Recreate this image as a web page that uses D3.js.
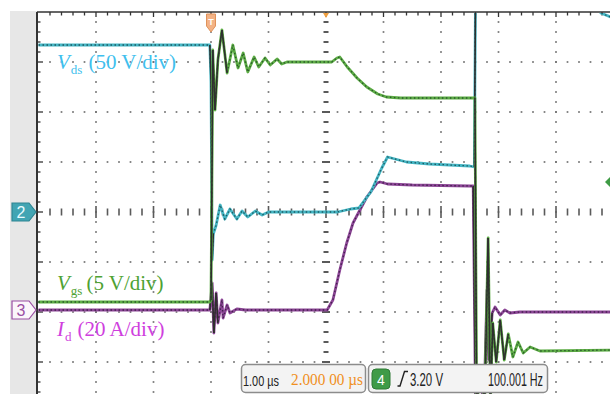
<!DOCTYPE html>
<html>
<head>
<meta charset="utf-8">
<script src="https://cdn.jsdelivr.net/npm/d3@7"></script>
<style>
  body { margin: 0; background: #fff; }
  svg { display: block; }
</style>
</head>
<body>
<svg width="610" height="394"></svg>
<script>
// scope settings
var timePerDiv = 1.0;      // µs/div
var delay = 2.0;           // µs, trigger -> screen centre
var vdsScale = 50, vdsOffset = 0;      // V/div, div
var vgsScale = 5, vgsOffset = -1;      // V/div, div
var idScale = 20, idOffset = -1.96;    // A/div, div

// traces, [time µs, value]
var vdsData = [[-3.0,167],[-0.02,167],[0.0,130],[0.02,-48],[0.04,-22],[0.09,-13],[0.16,7],[0.24,-7],
  [0.33,3],[0.45,-7],[0.54,1],[0.64,-5],[0.77,1],[0.89,-3],[1.0,0],[2.2,0],[2.43,3],[2.57,4],
  [2.78,20],[2.97,44],[3.07,55],[3.2,53],[3.4,50],[3.8,48],[4.5,46],[4.58,45],[4.61,300],
  [5.0,290],[6.5,240],[6.7,215],[6.78,199],[6.95,195],[7.0,196]];

var vgsData = [[-3.0,-4.0],[-0.02,-4.0],[0.0,-3.8],[0.02,11.2],[0.03,21.2],[0.07,15.2],[0.12,20.2],
  [0.19,23.2],[0.28,18.9],[0.38,21.7],[0.47,19.4],[0.56,20.9],[0.64,19.0],[0.75,20.5],[0.83,19.5],
  [0.94,20.4],[1.03,19.7],[1.15,20.3],[1.23,19.8],[1.32,20.0],[2.10,20.0],[2.19,20.4],[2.24,20.5],
  [2.37,19.5],[2.54,18.4],[2.71,17.5],[2.90,16.8],[3.05,16.5],[3.3,16.4],[4.59,16.4],[4.62,-14],
  [4.70,-11],[4.76,-14],[4.82,2.4],[4.86,-14],[4.90,-6.1],[4.96,-10],[5.03,-5.8],[5.10,-9.8],
  [5.17,-7.2],[5.25,-9.5],[5.34,-8.0],[5.43,-9.1],[5.55,-8.5],[5.72,-8.9],[7.0,-8.8]];

var idData = [[-3.0,0],[-0.02,0],[0.02,10.8],[0.05,-9.2],[0.09,6.8],[0.12,-5.2],[0.19,4.0],[0.21,-3.2],
  [0.28,2.0],[0.33,-1.2],[0.45,0.4],[0.6,0],[2.02,0],[2.12,4.0],[2.24,16],[2.36,26.8],[2.47,34.8],
  [2.59,40],[2.71,45.2],[2.89,50.8],[2.94,51.2],[3.07,50.4],[3.5,50.0],[4.5,49.6],[4.56,49.6],
  [4.60,-36],[4.68,-30],[4.75,-36],[4.80,8],[4.83,-20],[4.89,-1.2],[4.94,1.2],[5.03,-2],[5.11,0],
  [5.2,-1.2],[5.37,-0.8],[7.0,-0.8]];

var timebaseText = "1.00 µs", delayText = "2.000 00 µs";
var trigChannel = "4", trigLevelText = "3.20 V", freqText = "100.001 Hz";

var svg = d3.select("svg");

var xDiv = d3.scaleLinear().domain([0, 10]).range([38.5, 613.5]);
var yDiv = d3.scaleLinear().domain([-4, 4]).range([412, 12]);
var x = d3.scaleLinear()
  .domain([delay - 5 * timePerDiv, delay + 5 * timePerDiv])
  .range(xDiv.range());

var plotLeft = 37, plotTop = 12, W = 610, H = 394;

// grey strip on the left
svg.append("rect").attr("x", 10).attr("y", 11).attr("width", plotLeft - 10).attr("height", H - 11)
  .attr("fill", "#e7e7e7");

// grid
var grid = svg.append("g");
var dot = 1.7;
d3.range(1, 10).forEach(function (i) {
  if (i == 5) return;
  d3.range(-19, 20).forEach(function (k) {
    var yy = yDiv(k / 5);
    if (yy > H) return;
    grid.append("rect").attr("x", xDiv(i) - dot / 2).attr("y", yy - dot / 2)
      .attr("width", dot).attr("height", dot).attr("fill", "#727272");
  });
});
d3.range(-3, 4).forEach(function (j) {
  if (j == 0) return;
  d3.range(1, 50).forEach(function (k) {
    grid.append("rect").attr("x", xDiv(k / 5) - dot / 2).attr("y", yDiv(j) - dot / 2)
      .attr("width", dot).attr("height", dot).attr("fill", "#727272");
  });
});
// centre lines with ticks
d3.range(1, 50).forEach(function (k) {
  var h = k % 5 == 0 ? 12 : 7;
  grid.append("rect").attr("x", xDiv(k / 5) - 0.8).attr("y", yDiv(0) - h / 2)
    .attr("width", 1.6).attr("height", h).attr("fill", "#5a5a5a");
});
d3.range(-19, 20).forEach(function (k) {
  var yy = yDiv(k / 5);
  if (yy > H) return;
  var w = k % 5 == 0 ? 8 : 5;
  grid.append("rect").attr("x", xDiv(5) - w / 2).attr("y", yy - 1)
    .attr("width", w).attr("height", 2).attr("fill", "#5a5a5a");
});

// frame
var frame = svg.append("g");
frame.append("line").attr("x1", plotLeft).attr("x2", W).attr("y1", plotTop).attr("y2", plotTop)
  .attr("stroke", "#333").attr("stroke-width", 1.5);
frame.append("line").attr("x1", plotLeft).attr("x2", plotLeft).attr("y1", plotTop).attr("y2", H)
  .attr("stroke", "#333").attr("stroke-width", 2);
d3.range(1, 51).forEach(function (k) {
  frame.append("line").attr("x1", xDiv(k / 5)).attr("x2", xDiv(k / 5))
    .attr("y1", plotTop).attr("y2", plotTop + (k % 5 == 0 ? 5 : 3.5))
    .attr("stroke", "#333").attr("stroke-width", 1.3);
});
d3.range(-19, 20).forEach(function (k) {
  var yy = yDiv(k / 5);
  if (yy > H) return;
  frame.append("line").attr("x1", plotLeft).attr("x2", plotLeft + (k % 5 == 0 ? 6 : 3.5))
    .attr("y1", yy).attr("y2", yy).attr("stroke", "#333").attr("stroke-width", 1.3);
});

// traces
svg.append("clipPath").attr("id", "plot").append("rect")
  .attr("x", plotLeft + 1).attr("y", plotTop + 1).attr("width", W - plotLeft).attr("height", H - plotTop);
var traces = svg.append("g").attr("clip-path", "url(#plot)");

function drawTrace(data, perDiv, offset, color, dark) {
  var px = function (d) { return x(d[0]); };
  var py = function (d) { return yDiv(d[1] / perDiv + offset); };
  var line = d3.line().x(px).y(py);
  traces.append("path").datum(data).attr("d", line).attr("fill", "none")
    .attr("stroke", color).attr("stroke-width", 2.8).attr("stroke-linejoin", "round");
  traces.append("path").datum(data).attr("d", line).attr("fill", "none")
    .attr("stroke", dark).attr("stroke-width", 1.3).attr("stroke-dasharray", "1.5,2.5");
  // fast edges show up as thin dark strokes on the scope
  var steep = d3.pairs(data).filter(function (p) {
    var dx = Math.abs(px(p[1]) - px(p[0])), dy = Math.abs(py(p[1]) - py(p[0]));
    return dy > 25 && dy > 6 * dx;
  });
  traces.selectAll(null).data(steep).enter().append("line")
    .attr("x1", function (p) { return px(p[0]); }).attr("y1", function (p) { return py(p[0]); })
    .attr("x2", function (p) { return px(p[1]); }).attr("y2", function (p) { return py(p[1]); })
    .attr("stroke", "#2f2f2f").attr("stroke-width", 1.6);
}
drawTrace(idData, idScale, idOffset, "#8c4696", "#43204d");
drawTrace(vdsData, vdsScale, vdsOffset, "#45b6c4", "#1d5a62");
drawTrace(vgsData, vgsScale, vgsOffset, "#5dac45", "#295a2b");

// labels
function label(yb, main, sub, rest, color, gap) {
  var t = svg.append("text").attr("x", 57).attr("y", yb).attr("fill", color)
    .style("font-family", "'Liberation Serif','Times New Roman',serif").style("font-size", "21px");
  t.append("tspan").style("font-style", "italic").text(main);
  t.append("tspan").attr("dy", 5).attr("dx", 1).style("font-size", "13px").text(sub);
  t.append("tspan").attr("dy", -5).attr("dx", gap).text(rest);
}
label(69, "V", "ds", "(50 V/div)", "#3fbfee", 6);
label(290, "V", "gs", "(5 V/div)", "#4ea233", 4);
label(336, "I", "d", "(20 A/div)", "#cf3fde", 6);

// channel markers
function chMarker(yc, name, fill, stroke, txt) {
  var g = svg.append("g");
  g.append("path")
    .attr("d", "M12," + (yc - 9) + "H29L36," + yc + "L29," + (yc + 9) + "H12Z")
    .attr("fill", fill).attr("stroke", stroke).attr("stroke-width", 1.2);
  g.append("text").attr("x", 21).attr("y", yc + 6).attr("text-anchor", "middle")
    .attr("fill", txt).style("font-family", "'Liberation Sans',Arial,sans-serif")
    .style("font-size", "16px").text(name);
}
chMarker(yDiv(vdsOffset), "2", "#42a5b3", "#2f8593", "#e8fbff");
chMarker(yDiv(idOffset), "3", "#fbf6fb", "#9a4ea3", "#9a4ea3");

// trigger point marker
var tx = x(0);
svg.append("path")
  .attr("d", "M" + (tx - 4.5) + ",14H" + (tx + 4.5) + "V26L" + tx + ",32L" + (tx - 4.5) + ",26Z")
  .attr("fill", "#f3b285").attr("stroke", "#e0925a").attr("stroke-width", 1);
svg.append("text").attr("x", tx).attr("y", 25).attr("text-anchor", "middle").attr("fill", "#fff")
  .style("font-family", "'Liberation Sans',Arial,sans-serif").style("font-size", "9px")
  .style("font-weight", "bold").text("T");
// delay marker
var cx = x(delay);
svg.append("path").attr("d", "M" + (cx - 3) + ",13H" + (cx + 3) + "L" + cx + ",18Z")
  .attr("fill", "#f0a040");
// trigger level marker (right edge)
svg.append("path").attr("d", "M605,182L611,176V188Z").attr("fill", "#3f9b45");

// status boxes
var info = svg.append("g");
info.append("rect").attr("x", 241.5).attr("y", 364.5).attr("width", 124).attr("height", 28).attr("rx", 4)
  .attr("fill", "#f3f3f3").attr("stroke", "#8c8c8c").attr("stroke-width", 1.5);
info.append("rect").attr("x", 368.5).attr("y", 364.5).attr("width", 179).attr("height", 28).attr("rx", 4)
  .attr("fill", "#f3f3f3").attr("stroke", "#8c8c8c").attr("stroke-width", 1.5);
var narrow = "'Liberation Sans Narrow','Arial Narrow','Liberation Sans',sans-serif";
info.append("text").attr("x", 243).attr("y", 386).attr("textLength", 36).attr("lengthAdjust", "spacingAndGlyphs")
  .attr("fill", "#222").style("font-family", narrow).style("font-size", "14px").text(timebaseText);
info.append("text").attr("x", 291).attr("y", 385).attr("textLength", 72).attr("lengthAdjust", "spacingAndGlyphs")
  .attr("fill", "#f0901e").style("font-family", "'Liberation Serif',serif").style("font-size", "16px").text(delayText);
info.append("rect").attr("x", 372).attr("y", 369).attr("width", 18).attr("height", 20).attr("rx", 4)
  .attr("fill", "#3f9b47").attr("stroke", "#2e7a35");
info.append("text").attr("x", 381).attr("y", 385).attr("text-anchor", "middle").attr("fill", "#fff")
  .style("font-family", "'Liberation Sans',sans-serif").style("font-size", "14px").text(trigChannel);
info.append("path").attr("d", "M397.5,386H400L404.5,371.5H408").attr("fill", "none")
  .attr("stroke", "#222").attr("stroke-width", 1.4);
info.append("text").attr("x", 410).attr("y", 386).attr("textLength", 33).attr("lengthAdjust", "spacingAndGlyphs")
  .attr("fill", "#222").style("font-family", narrow).style("font-size", "18px").text(trigLevelText);
info.append("text").attr("x", 488).attr("y", 386).attr("textLength", 55).attr("lengthAdjust", "spacingAndGlyphs")
  .attr("fill", "#222").style("font-family", narrow).style("font-size", "18px").text(freqText);
</script>
</body>
</html>
